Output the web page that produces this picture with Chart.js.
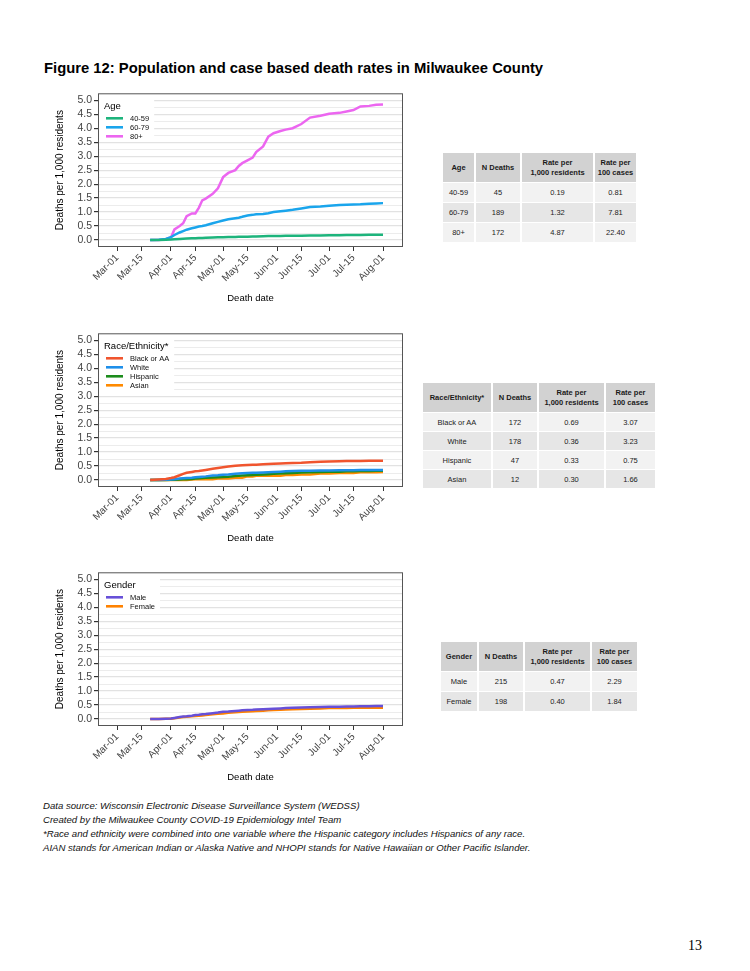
<!DOCTYPE html>
<html>
<head>
<meta charset="utf-8">
<script src="https://cdn.jsdelivr.net/npm/chart.js@4.4.1/dist/chart.umd.min.js"></script>
<style>
  body { margin: 0; background: #fff; }
  #page { position: relative; width: 750px; height: 971px; background: #fff; overflow: hidden; font-family: 'Liberation Sans', Arial, sans-serif; }
  .title { position: absolute; left: 44px; top: 59px; font-size: 14.8px; font-weight: bold; line-height: 18px; color: #000; white-space: nowrap; }
  .cv { position: absolute; left: 40px; width: 380px; height: 230px; }
  table.t { position: absolute; border-collapse: separate; border-spacing: 2px 1px; table-layout: fixed; font-size: 7.5px; color: #222; }
  table.t th { background: #D2D2D2; font-weight: bold; height: 29px; padding: 0; text-align: center; vertical-align: middle; line-height: 10px; color: #1a1a1a; }
  table.t td { padding: 0; text-align: center; vertical-align: middle; }
  table.t tr.odd td { background: #F2F2F2; }
  table.t tr.even td { background: #E6E6E6; }
  .notes { position: absolute; left: 43px; top: 799px; font-size: 9.6px; line-height: 14px; font-style: italic; color: #111; white-space: nowrap; }
  .pnum { position: absolute; left: 688px; top: 938px; font-family: 'Liberation Serif', 'DejaVu Serif', serif; font-size: 14px; color: #000; }
</style>
</head>
<body>
<div id="page">
  <div class="title">Figure 12: Population and case based death rates in Milwaukee County</div>
  <canvas id="ageChart" class="cv" style="top:85px"></canvas>
  <canvas id="raceChart" class="cv" style="top:325px"></canvas>
  <canvas id="genderChart" class="cv" style="top:564px"></canvas>
  <table id="ageTable" class="t" style="left:441px; top:152px"></table>
  <table id="raceTable" class="t" style="left:421px; top:382px"></table>
  <table id="genderTable" class="t" style="left:439px; top:641px"></table>
  <div class="notes">
    Data source: Wisconsin Electronic Disease Surveillance System (WEDSS)<br>
    Created by the Milwaukee County COVID-19 Epidemiology Intel Team<br>
    *Race and ethnicity were combined into one variable where the Hispanic category includes Hispanics of any race.<br>
    AIAN stands for American Indian or Alaska Native and NHOPI stands for Native Hawaiian or Other Pacific Islander.
  </div>
  <div class="pnum">13</div>
</div>
<script>
// Datas das observações (eixo x)
const dates = ['2020-03-20', '2020-03-25', '2020-03-29', '2020-04-01', '2020-04-03', '2020-04-06', '2020-04-08', '2020-04-10',
    '2020-04-13', '2020-04-15', '2020-04-17', '2020-04-19', '2020-04-21', '2020-04-25', '2020-04-28', '2020-05-01',
    '2020-05-04', '2020-05-08', '2020-05-10', '2020-05-12', '2020-05-15', '2020-05-18', '2020-05-20', '2020-05-24',
    '2020-05-27', '2020-05-30', '2020-06-03', '2020-06-06', '2020-06-10', '2020-06-15', '2020-06-20', '2020-06-26',
    '2020-07-01', '2020-07-07', '2020-07-11', '2020-07-15', '2020-07-19', '2020-07-24', '2020-07-28', '2020-08-01'];

const tickDates = ['2020-03-01', '2020-03-15', '2020-04-01', '2020-04-15', '2020-05-01', '2020-05-15',
    '2020-06-01', '2020-06-15', '2020-07-01', '2020-07-15', '2020-08-01'];
const tickLabels = ['Mar-01', 'Mar-15', 'Apr-01', 'Apr-15', 'May-01', 'May-15', 'Jun-01', 'Jun-15', 'Jul-01', 'Jul-15', 'Aug-01'];
const yTicks = [0, 0.25, 0.5, 0.75, 1, 1.25, 1.5, 1.75, 2, 2.25, 2.5, 2.75, 3, 3.25, 3.5, 3.75, 4, 4.25, 4.5, 4.75, 5];

// Idade
const ageLabels = ['40-59', '60-79', '80+'];
const age4059 = [0, 0, 0.01, 0.02, 0.03, 0.04, 0.045, 0.05, 0.06, 0.065, 0.07, 0.075, 0.08, 0.09, 0.095, 0.1,
    0.105, 0.11, 0.115, 0.12, 0.12, 0.125, 0.13, 0.135, 0.14, 0.14, 0.145, 0.15, 0.15, 0.155, 0.16, 0.165,
    0.17, 0.17, 0.175, 0.18, 0.18, 0.185, 0.19, 0.19];
const age6079 = [0, 0.01, 0.04, 0.1, 0.18, 0.27, 0.32, 0.37, 0.42, 0.45, 0.48, 0.5, 0.53, 0.6, 0.65, 0.7,
    0.74, 0.78, 0.8, 0.83, 0.88, 0.9, 0.92, 0.93, 0.96, 1.0, 1.03, 1.05, 1.08, 1.13, 1.18, 1.2,
    1.23, 1.25, 1.26, 1.27, 1.28, 1.3, 1.31, 1.32];
const age80 = [0, 0, 0.03, 0.1, 0.38, 0.5, 0.6, 0.85, 0.95, 0.95, 1.15, 1.42, 1.48, 1.65, 1.85, 2.25,
    2.4, 2.5, 2.65, 2.75, 2.85, 2.95, 3.15, 3.35, 3.7, 3.82, 3.9, 3.95, 4.0, 4.15, 4.38, 4.45,
    4.52, 4.55, 4.6, 4.65, 4.78, 4.8, 4.84, 4.85];

// Raça/Etnia
const raceLabels = ['Black or AA', 'White', 'Hispanic', 'Asian'];
const raceBlack = [0, 0.02, 0.04, 0.07, 0.1, 0.17, 0.22, 0.26, 0.29, 0.31, 0.32, 0.34, 0.36, 0.4, 0.43, 0.46,
    0.48, 0.51, 0.52, 0.53, 0.54, 0.55, 0.55, 0.56, 0.57, 0.58, 0.59, 0.6, 0.61, 0.62, 0.64, 0.65,
    0.66, 0.67, 0.68, 0.68, 0.68, 0.69, 0.69, 0.69];
const raceWhite = [0, 0, 0.01, 0.02, 0.03, 0.05, 0.06, 0.07, 0.08, 0.1, 0.11, 0.12, 0.13, 0.16, 0.17, 0.19,
    0.2, 0.22, 0.23, 0.24, 0.25, 0.26, 0.26, 0.27, 0.28, 0.29, 0.3, 0.31, 0.32, 0.33, 0.33, 0.34,
    0.34, 0.35, 0.35, 0.35, 0.36, 0.36, 0.36, 0.36];
const raceHispanic = [0, 0, 0, 0.01, 0.01, 0.02, 0.03, 0.03, 0.04, 0.05, 0.06, 0.07, 0.08, 0.09, 0.1, 0.11,
    0.12, 0.14, 0.15, 0.16, 0.17, 0.18, 0.19, 0.2, 0.21, 0.22, 0.23, 0.24, 0.25, 0.27, 0.28, 0.29,
    0.3, 0.3, 0.31, 0.31, 0.32, 0.32, 0.33, 0.33];
const raceAsian = [0, 0, 0, 0, 0, 0, 0, 0, 0.02, 0.03, 0.03, 0.03, 0.03, 0.03, 0.05, 0.05,
    0.05, 0.08, 0.08, 0.08, 0.13, 0.13, 0.15, 0.15, 0.15, 0.15, 0.15, 0.18, 0.18, 0.2, 0.2, 0.23,
    0.23, 0.25, 0.25, 0.25, 0.28, 0.28, 0.28, 0.29];

// Sexo
const genderLabels = ['Male', 'Female'];
const genderMale = [0, 0, 0.01, 0.02, 0.04, 0.07, 0.09, 0.1, 0.12, 0.14, 0.15, 0.17, 0.18, 0.21, 0.23, 0.26,
    0.27, 0.29, 0.3, 0.31, 0.32, 0.33, 0.34, 0.35, 0.36, 0.37, 0.38, 0.39, 0.4, 0.41, 0.42, 0.43,
    0.44, 0.44, 0.45, 0.45, 0.46, 0.46, 0.47, 0.47];
const genderFemale = [0, 0, 0.01, 0.01, 0.03, 0.05, 0.07, 0.08, 0.1, 0.11, 0.12, 0.13, 0.14, 0.17, 0.19, 0.2,
    0.22, 0.24, 0.25, 0.26, 0.27, 0.28, 0.29, 0.3, 0.31, 0.32, 0.33, 0.34, 0.35, 0.36, 0.37, 0.38,
    0.39, 0.39, 0.39, 0.4, 0.4, 0.4, 0.4, 0.4];

// Tabelas
const tableHead = ['N Deaths', 'Rate per<br>1,000 residents', 'Rate per<br>100 cases'];
const ageRows = [['40-59', '45', '0.19', '0.81'], ['60-79', '189', '1.32', '7.81'], ['80+', '172', '4.87', '22.40']];
const raceRows = [['Black or AA', '172', '0.69', '3.07'], ['White', '178', '0.36', '3.23'],
    ['Hispanic', '47', '0.33', '0.75'], ['Asian', '12', '0.30', '1.66']];
const genderRows = [['Male', '215', '0.47', '2.29'], ['Female', '198', '0.40', '1.84']];

const FONT = "'Liberation Sans', Arial, sans-serif";
const MAR01 = Date.UTC(2020, 2, 1);
const dayOf = s => (Date.parse(s) - MAR01) / 864e5;
const xDays = dates.map(dayOf);
const tickDays = tickDates.map(dayOf);
const isMajor = v => Math.round(v * 100) % 50 === 0;

// Legenda dentro do painel + borda (estilo ggplot)
const ggPanel = {
    id: 'ggPanel',
    afterDraw(chart, args, opts) {
        const { ctx, chartArea: a } = chart;
        const dsets = chart.data.datasets;
        ctx.save();
        ctx.font = '7.5px ' + FONT;
        let maxW = 0;
        dsets.forEach(d => { maxW = Math.max(maxW, ctx.measureText(d.label).width); });
        ctx.font = '9.5px ' + FONT;
        maxW = Math.max(maxW + 32, ctx.measureText(opts.title).width + 6);
        ctx.fillStyle = '#fff';
        ctx.fillRect(a.left + 1, a.top + 4, maxW + 4, 25 + 9 * (dsets.length - 1) + 5 - 4);

        ctx.fillStyle = '#000';
        ctx.textBaseline = 'middle';
        ctx.fillText(opts.title, a.left + 6, a.top + 13);
        ctx.font = '7.5px ' + FONT;
        dsets.forEach((d, i) => {
            const y = a.top + 25 + 9 * i;
            ctx.strokeStyle = d.borderColor;
            ctx.lineWidth = 2.6;
            ctx.beginPath();
            ctx.moveTo(a.left + 8, y);
            ctx.lineTo(a.left + 25, y);
            ctx.stroke();
            ctx.fillStyle = '#111';
            ctx.fillText(d.label, a.left + 32, y + 0.5);
        });

        ctx.strokeStyle = '#555';
        ctx.lineWidth = 1;
        ctx.strokeRect(a.left + 0.5, a.top + 0.5, a.width - 1, a.height - 1);
        ctx.restore();
    }
};

function makeChart(id, legendTitle, labels, series, colors) {
    return new Chart(document.getElementById(id), {
        type: 'line',
        data: {
            datasets: series.map((vals, i) => ({
                label: labels[i],
                data: vals.map((v, j) => ({ x: xDays[j], y: v })),
                borderColor: colors[i],
                borderWidth: 2.5,
                pointRadius: 0,
                tension: 0,
                fill: false
            }))
        },
        options: {
            responsive: false,
            animation: false,
            events: [],
            layout: { padding: { top: 4, right: 17, left: 0, bottom: 0 } },
            plugins: {
                legend: { display: false },
                tooltip: { enabled: false },
                ggPanel: { title: legendTitle }
            },
            scales: {
                x: {
                    type: 'linear',
                    min: -11,
                    max: 164.5,
                    afterBuildTicks: s => { s.ticks = tickDays.map(v => ({ value: v })); },
                    afterFit: s => { s.height = 68; },
                    ticks: {
                        autoSkip: false,
                        maxRotation: 45,
                        minRotation: 45,
                        padding: 1,
                        color: '#444',
                        font: { family: FONT, size: 10 },
                        callback: v => tickLabels[tickDays.indexOf(v)]
                    },
                    grid: { drawOnChartArea: false, tickLength: 4, tickColor: '#333', lineWidth: 1 },
                    border: { display: false },
                    title: {
                        display: true,
                        text: 'Death date',
                        color: '#000',
                        font: { family: FONT, size: 9.5 },
                        padding: { top: 0, bottom: 11 }
                    }
                },
                y: {
                    min: -0.25,
                    max: 5.25,
                    afterBuildTicks: s => { s.ticks = yTicks.map(v => ({ value: v })); },
                    afterFit: s => { s.width = 58; },
                    ticks: {
                        autoSkip: false,
                        padding: 2,
                        color: '#444',
                        font: { family: FONT, size: 10.5 },
                        callback: v => (isMajor(v) ? v.toFixed(1) : '')
                    },
                    grid: {
                        tickLength: 4,
                        color: c => (isMajor(c.tick.value) ? '#E2E2E2' : '#ECECEC'),
                        tickColor: c => (isMajor(c.tick.value) ? '#333' : 'rgba(0,0,0,0)'),
                        lineWidth: c => (isMajor(c.tick.value) ? 1.2 : 1)
                    },
                    border: { display: false },
                    title: {
                        display: true,
                        text: 'Deaths per 1,000 residents',
                        color: '#000',
                        font: { family: FONT, size: 10 },
                        padding: { top: 14, bottom: 0 }
                    }
                }
            }
        },
        plugins: [ggPanel]
    });
}

function setupCanvas(id) {
    const c = document.getElementById(id);
    c.width = 380;
    c.height = 230;
}

function buildTable(id, firstHead, rows, widths, rowH) {
    const t = document.getElementById(id);
    let html = '<colgroup>' + widths.map(w => `<col style="width:${w}px">`).join('') + '</colgroup>';
    html += '<tr>' + [firstHead].concat(tableHead).map(h => `<th>${h}</th>`).join('') + '</tr>';
    rows.forEach((r, i) => {
        html += `<tr class="${i % 2 === 0 ? 'odd' : 'even'}">` + r.map(v => `<td style="height:${rowH}px">${v}</td>`).join('') + '</tr>';
    });
    t.innerHTML = html;
    t.style.width = (widths.reduce((a, b) => a + b, 0) + 2 * (widths.length + 1)) + 'px';
}

['ageChart', 'raceChart', 'genderChart'].forEach(setupCanvas);

makeChart('ageChart', 'Age', ageLabels, [age4059, age6079, age80], ['#1DB47C', '#1AA5EC', '#EC66F0']);
makeChart('raceChart', 'Race/Ethnicity*', raceLabels, [raceBlack, raceWhite, raceHispanic, raceAsian],
    ['#F0552E', '#1E8FEA', '#1C8C1C', '#FF8A00']);
makeChart('genderChart', 'Gender', genderLabels, [genderMale, genderFemale], ['#6750D8', '#FF8200']);

buildTable('ageTable', 'Age', ageRows, [31, 44, 71, 41], 19);
buildTable('raceTable', 'Race/Ethnicity*', raceRows, [68, 44, 65, 49], 18);
buildTable('genderTable', 'Gender', genderRows, [36, 44, 65, 45], 19);
</script>
</body>
</html>
